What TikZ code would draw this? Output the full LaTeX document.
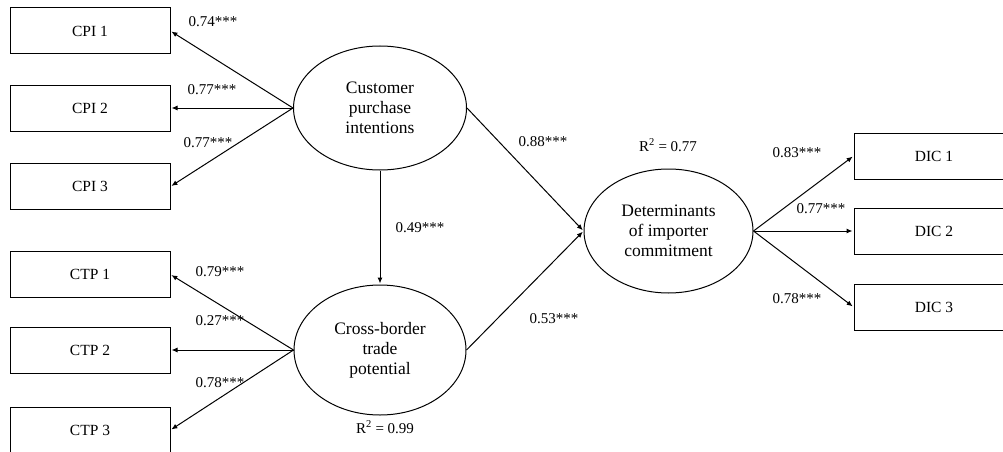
\documentclass[tikz,border=0pt]{standalone}
\usepackage{fontspec}
\setmainfont{Liberation Serif}
\usetikzlibrary{shapes.geometric,arrows.meta}
\begin{document}
\begin{tikzpicture}[x=1pt,y=-1pt,
  ind/.style={draw, line width=1pt, minimum width=160pt, minimum height=46pt, inner sep=0pt,
    font=\fontsize{15.5}{18}\selectfont},
  lat/.style={draw, line width=1pt, ellipse, inner sep=0pt, align=center,
    font=\fontsize{17.5}{20}\selectfont},
  lbl/.style={anchor=base, inner sep=0pt, font=\fontsize{15}{18}\selectfont},
  arr/.style={line width=1pt, -{Latex[length=6pt,width=5pt]}, shorten >=1pt}
]
\useasboundingbox (0,0) rectangle (1003,452);
\clip (0,0) rectangle (1003,452);
\fill[white] (0,0) rectangle (1003,452);

% indicator boxes
\node[ind] (cpi1) at (90,31) {CPI 1};
\node[ind] (cpi2) at (90,108) {CPI 2};
\node[ind] (cpi3) at (90,186.5) {CPI 3};
\node[ind] (ctp1) at (90,274.5) {CTP 1};
\node[ind] (ctp2) at (90,350) {CTP 2};
\node[ind] (ctp3) at (90,430) {CTP 3};
\node[ind] (dic1) at (934,156) {DIC 1};
\node[ind] (dic2) at (934,231) {DIC 2};
\node[ind] (dic3) at (934,307) {DIC 3};

% latent variables
\node[lat, minimum width=173pt, minimum height=124pt] (cpi) at (380,108) {Customer\\purchase\\intentions};
\node[lat, minimum width=172pt, minimum height=130pt] (ctp) at (380,350) {Cross-border\\trade\\potential};
\node[lat, minimum width=169pt, minimum height=124pt] (dic) at (668.5,231) {Determinants\\of importer\\commitment};

% connectors
\draw[arr] (cpi.west) -- (cpi1.east);
\draw[arr] (cpi.west) -- (cpi2.east);
\draw[arr] (cpi.west) -- (cpi3.east);
\draw[arr] (ctp.west) -- (ctp1.east);
\draw[arr] (ctp.west) -- (ctp2.east);
\draw[arr] (ctp.west) -- (ctp3.east);
\draw[arr] (cpi.south) -- (ctp.north);
\draw[arr] (cpi.east) -- (dic.west);
\draw[arr] (ctp.east) -- (dic.west);
\draw[arr] (dic.east) -- (dic1.west);
\draw[arr] (dic.east) -- (dic2.west);
\draw[arr] (dic.east) -- (dic3.west);

% labels
\node[lbl] (l1) at (213,27) {0.74***};
\node[lbl] (l2) at (212,94) {0.77***};
\node[lbl] (l3) at (208,147) {0.77***};
\node[lbl] (l4) at (220,276) {0.79***};
\node[lbl] (l5) at (220,325) {0.27***};
\node[lbl] (l6) at (220,387) {0.78***};
\node[lbl] (l7) at (420,232) {0.49***};
\node[lbl] (l8) at (543,146) {0.88***};
\node[lbl] (l9) at (554,323) {0.53***};
\node[lbl] (l10) at (797,157) {0.83***};
\node[lbl] (l11) at (821,213) {0.77***};
\node[lbl] (l12) at (797,303) {0.78***};
\node[lbl] (r1) at (668,151) {R\textsuperscript{2} = 0.77};
\node[lbl] (r2) at (385,433) {R\textsuperscript{2} = 0.99};
\end{tikzpicture}
\end{document}
